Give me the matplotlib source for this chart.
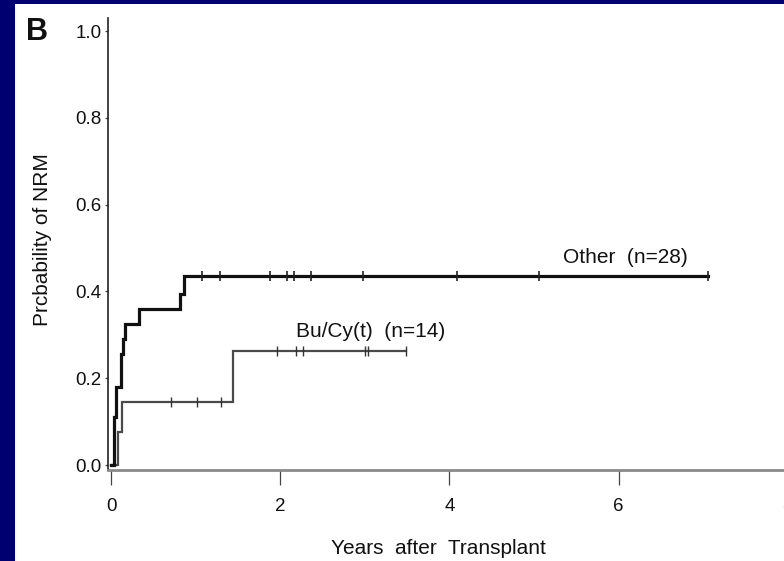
import matplotlib
matplotlib.use("Agg")
import matplotlib.pyplot as plt
from matplotlib.patches import Rectangle

# Cumulative incidence of non-relapse mortality (NRM) by conditioning group
other_times = [0.0, 0.03, 0.05, 0.11, 0.135, 0.16, 0.33, 0.81, 0.86]
other_cif = [0.0, 0.11, 0.18, 0.255, 0.29, 0.325, 0.36, 0.395, 0.435]
other_end = 7.06
other_censored = [1.07, 1.28, 1.88, 2.08, 2.16, 2.36, 2.98, 4.09, 5.06, 7.06]

bucy_times = [0.0, 0.076, 0.12, 1.44]
bucy_cif = [0.0, 0.075, 0.145, 0.262]
bucy_end = 3.48
bucy_censored = [0.70, 1.01, 1.30, 1.96, 2.18, 2.27, 3.00, 3.04, 3.48]

x_ticks = [0, 2, 4, 6, 8]
y_ticks = [0.0, 0.2, 0.4, 0.6, 0.8, 1.0]
y_tick_labels = ["0.0", "0.2", "0.4", "0.6", "0.8", "1.0"]

FONT = ["Liberation Sans", "DejaVu Sans"]
plt.rcParams["font.family"] = FONT

W, H = 784, 561
fig = plt.figure(figsize=(W / 100, H / 100), dpi=100)
fig.patch.set_facecolor("#000070")
fig.add_artist(Rectangle((15 / W, 0), 1 - 15 / W, (H - 4) / H,
                         transform=fig.transFigure, facecolor="white",
                         edgecolor="none", zorder=-10))

ax_left, ax_right = 108, 796
ax_top, ax_bottom = 18, 470
ax = fig.add_axes([ax_left / W, (H - ax_bottom) / H,
                   (ax_right - ax_left) / W, (ax_bottom - ax_top) / H])
ax.set_facecolor("none")
ax.set_xlim(-0.04, 8.1)
ax.set_ylim(-0.0115, 1.03)


def cif_curve(times, values, end):
    xs = list(times) + [end]
    ys = list(values) + [values[-1]]
    return xs, ys


def value_at(times, values, t):
    v = values[0]
    for ti, vi in zip(times, values):
        if ti <= t:
            v = vi
    return v


ox, oy = cif_curve(other_times, other_cif, other_end)
ax.plot(ox, oy, drawstyle="steps-post", color="#111111", lw=2.3,
        solid_joinstyle="miter", zorder=3)
ax.plot(other_censored, [value_at(other_times, other_cif, t) for t in other_censored],
        linestyle="none", marker="|", markersize=7, mew=1.2, color="#222222", zorder=4)

bx, by = cif_curve(bucy_times, bucy_cif, bucy_end)
ax.plot(bx, by, drawstyle="steps-post", color="#4a4a4a", lw=1.6,
        solid_joinstyle="miter", zorder=2)
ax.plot(bucy_censored, [value_at(bucy_times, bucy_cif, t) for t in bucy_censored],
        linestyle="none", marker="|", markersize=7, mew=1.0, color="#333333", zorder=4)

ax.text(5.34, 0.478, "Other  (n=28)", fontsize=15, va="center", ha="left", color="#111111")
ax.text(2.19, 0.307, "Bu/Cy(t)  (n=14)", fontsize=15, va="center", ha="left", color="#111111")

for side in ("top", "right"):
    ax.spines[side].set_visible(False)
ax.spines["left"].set_color("#222222")
ax.spines["left"].set_linewidth(1.2)
ax.spines["bottom"].set_color("#8a8a8a")
ax.spines["bottom"].set_linewidth(2.0)

ax.set_xticks(x_ticks)
ax.set_xticklabels([str(t) for t in x_ticks])
ax.set_yticks(y_ticks)
ax.set_yticklabels(y_tick_labels)
ax.tick_params(axis="x", direction="out", length=11, width=0.9, color="#444444",
               pad=9, labelsize=13.5, labelcolor="#111111")
ax.tick_params(axis="y", direction="out", length=2.5, width=0.9, color="#444444",
               pad=2, labelsize=13.5, labelcolor="#111111")

fig.text(43 / W, 1 - 240 / H, "Prcbability of NRM", rotation=90,
         ha="center", va="center", fontsize=15, color="#111111")
fig.text(438 / W, 1 - 548 / H, "Years  after  Transplant",
         ha="center", va="center", fontsize=15, color="#111111")
fig.text(26 / W, 1 - 32 / H, "B", ha="left", va="center", fontsize=22,
         fontweight="bold", color="#111111")

fig.savefig("out.png", dpi=100, facecolor=fig.get_facecolor())
